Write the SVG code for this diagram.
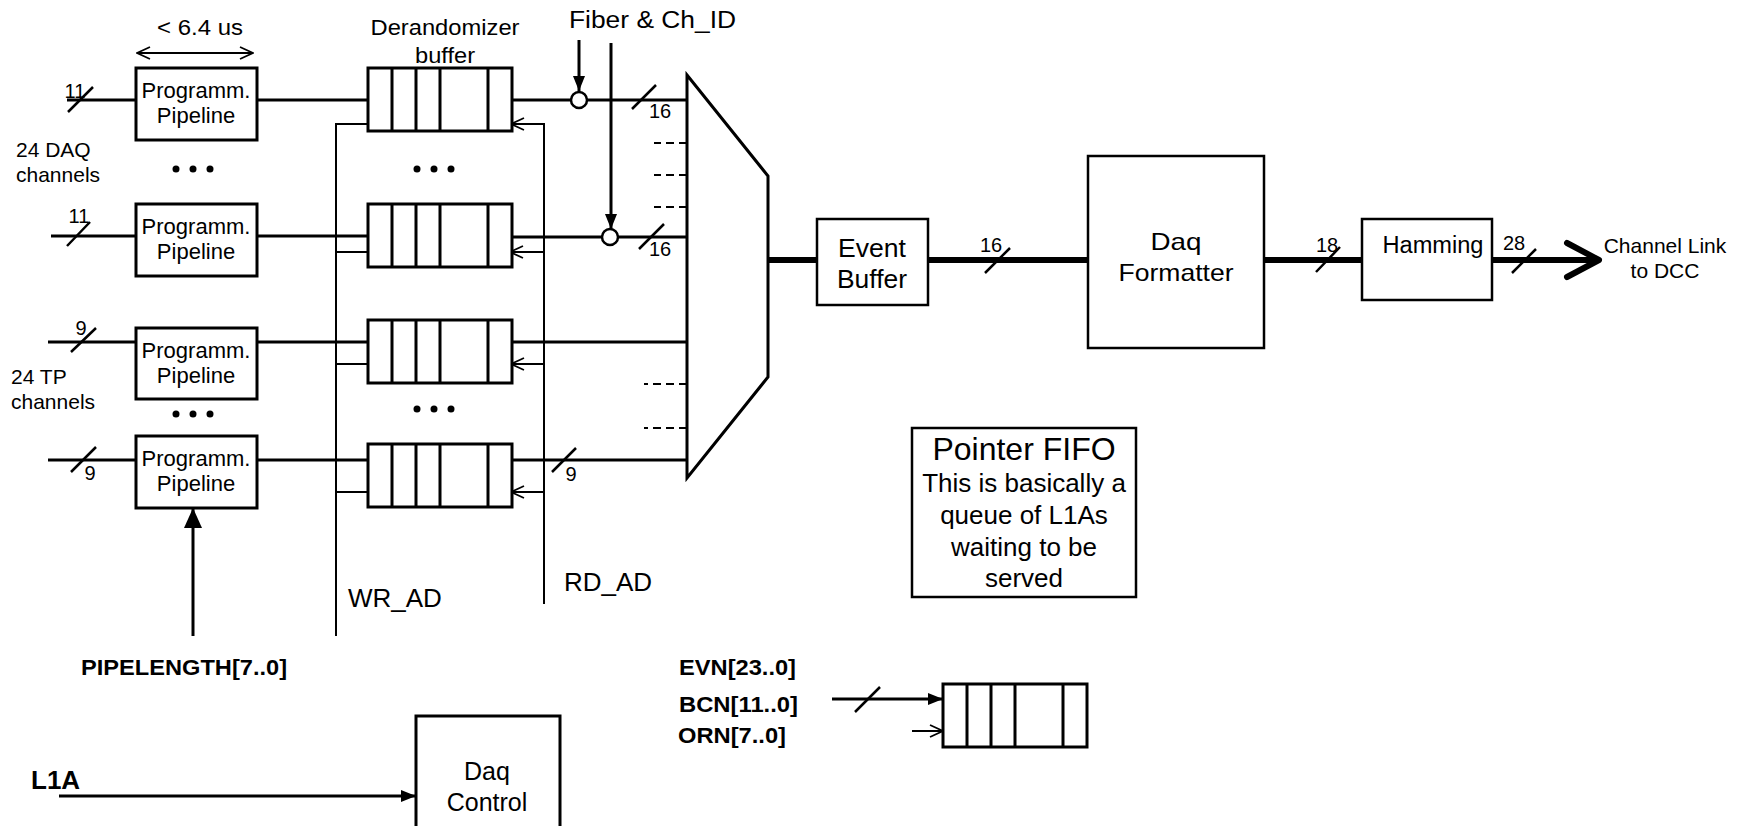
<svg xmlns="http://www.w3.org/2000/svg" xmlns:xlink="http://www.w3.org/1999/xlink" width="1744" height="826" viewBox="0 0 1744 826">
<style>
text{font-family:"Liberation Sans",Arial,Helvetica,sans-serif;fill:#000}
.c{text-anchor:middle}
.b{font-weight:bold}
.ln{stroke:#000;stroke-width:3;fill:none}
.th{stroke:#000;stroke-width:2;fill:none}
.tk{stroke:#000;stroke-width:6;fill:none}
.sl{stroke:#000;stroke-width:2.5;fill:none}
.box{fill:#fff;stroke:#000;stroke-width:3}
.box2{fill:#fff;stroke:#000;stroke-width:2.5}
.dash{stroke:#000;stroke-width:2;stroke-dasharray:8 5;fill:none}
.f21{font-size:21px}
.f22{font-size:22px}
.f26{font-size:26px}
.f20{font-size:20px}
</style>
<defs>
<marker id="aOpen" viewBox="0 0 15 14" refX="14" refY="7" markerWidth="15" markerHeight="14" orient="auto-start-reverse" markerUnits="userSpaceOnUse"><path d="M1,1 L14,7 L1,13" fill="none" stroke="#000" stroke-width="1.8"/></marker>
<marker id="aFill" viewBox="0 0 15 12" refX="15" refY="6" markerWidth="15" markerHeight="12" orient="auto" markerUnits="userSpaceOnUse"><path d="M0,0 L15,6 L0,12 z" fill="#000"/></marker>
<marker id="aBig" viewBox="0 0 20 18" refX="20" refY="9" markerWidth="20" markerHeight="18" orient="auto" markerUnits="userSpaceOnUse"><path d="M0,0 L20,9 L0,18 z" fill="#000"/></marker>
<g id="cells">
<rect x="0" y="0" width="144" height="63" class="box"/>
<path d="M24,0V63M48,0V63M72,0V63M120,0V63" class="ln"/>
</g>
<g id="dots"><circle cx="0" cy="0" r="3.5"/><circle cx="17" cy="0" r="3.5"/><circle cx="34" cy="0" r="3.5"/></g>
</defs>
<rect width="1744" height="826" fill="#fff"/>

<g id="connectors">
<path class="ln" d="M67,100H136M51,236H136M48,342H136M48,460H136"/>
<path class="sl" d="M68,112L93,87M67,246L90,222M71,352L96,328M71,472L96,447"/>
<path class="ln" d="M257,100H368M257,236H368M257,342H368M257,460H368"/>
<path class="ln" d="M512,100H571M587,100H687M512,237H602M618,237H687M512,342H687M512,460H687"/>
<path class="sl" d="M632,109L656,85M639,249L664,224M552,472L576,448"/>
<line class="ln" x1="579" y1="40" x2="579" y2="91" marker-end="url(#aFill)"/>
<line class="ln" x1="611" y1="43" x2="611" y2="229" marker-end="url(#aFill)"/>
<path class="dash" d="M687,143H654M687,175H654M687,207H654M687,384H644M687,428H644"/>
<path class="th" d="M336,636V124H400" marker-end="url(#aOpen)"/>
<line class="th" x1="336" y1="252" x2="384" y2="252" marker-end="url(#aOpen)"/>
<line class="th" x1="336" y1="364" x2="382" y2="364" marker-end="url(#aOpen)"/>
<line class="th" x1="336" y1="492" x2="382" y2="492" marker-end="url(#aOpen)"/>
<path class="th" d="M544,604V124H511" marker-end="url(#aOpen)"/>
<line class="th" x1="544" y1="252" x2="510" y2="252" marker-end="url(#aOpen)"/>
<line class="th" x1="544" y1="364" x2="511" y2="364" marker-end="url(#aOpen)"/>
<line class="th" x1="544" y1="492" x2="511" y2="492" marker-end="url(#aOpen)"/>
<line class="th" x1="137" y1="53" x2="253" y2="53" stroke-width="1.6" marker-start="url(#aOpen)" marker-end="url(#aOpen)"/>
<path class="tk" d="M768,260H817M928,260H1088M1264,260H1362M1492,260H1597"/>
<polyline class="tk" points="1567,243 1599,260 1567,277" stroke-linecap="round" stroke-linejoin="round"/>
<path class="sl" d="M985,273L1010,248M1316,272L1340,247M1512,273L1536,249"/>
<line class="ln" x1="193" y1="636" x2="193" y2="508" marker-end="url(#aBig)"/>
<line class="ln" x1="59" y1="796" x2="416" y2="796" marker-end="url(#aFill)"/>
<line class="ln" x1="832" y1="699" x2="943" y2="699" marker-end="url(#aFill)"/>
<path class="sl" d="M855,712L880,687"/>
<line class="th" x1="912" y1="731" x2="943" y2="731" marker-end="url(#aOpen)"/>
</g>

<g id="labels-bus">
<text class="c f20" x="75" y="98">11</text>
<text class="c f20" x="79" y="223">11</text>
<text class="c f20" x="81" y="335">9</text>
<text class="c f20" x="90" y="480">9</text>
<text class="c f20" x="660" y="118">16</text>
<text class="c f20" x="660" y="256">16</text>
<text class="c f20" x="571" y="481">9</text>
<text class="c f20" x="991" y="252">16</text>
<text class="c f20" x="1327" y="252">18</text>
<text class="c f20" x="1514" y="250">28</text>
</g>

<g id="timing-label"><text class="c" x="200" y="35" font-size="22" textLength="86" lengthAdjust="spacingAndGlyphs">&lt; 6.4 us</text></g>
<g id="derand-label">
<text class="c" x="445" y="35" font-size="22" textLength="149" lengthAdjust="spacingAndGlyphs">Derandomizer</text>
<text class="c" x="445" y="63" font-size="22" textLength="60" lengthAdjust="spacingAndGlyphs">buffer</text>
</g>
<g id="fiber-label"><text x="569" y="28" font-size="23" textLength="167" lengthAdjust="spacingAndGlyphs">Fiber &amp; Ch_ID</text></g>
<g id="daq-ch-label"><text class="f21" x="16" y="157">24 DAQ</text><text class="f21" x="16" y="182">channels</text></g>
<g id="tp-ch-label"><text class="f21" x="11" y="384">24 TP</text><text class="f21" x="11" y="409">channels</text></g>
<g id="wr-label"><text class="f26" x="348" y="607">WR_AD</text></g>
<g id="rd-label"><text class="f26" x="564" y="591">RD_AD</text></g>
<g id="pipelength-label"><text class="b" x="81" y="675" font-size="22" textLength="206" lengthAdjust="spacingAndGlyphs">PIPELENGTH[7..0]</text></g>
<g id="l1a-label"><text class="b" x="31" y="789" font-size="26">L1A</text></g>
<g id="evn-labels">
<text class="b" x="679" y="675" font-size="22" textLength="117" lengthAdjust="spacingAndGlyphs">EVN[23..0]</text>
<text class="b" x="679" y="712" font-size="22" textLength="119" lengthAdjust="spacingAndGlyphs">BCN[11..0]</text>
<text class="b" x="678" y="743" font-size="22" textLength="108" lengthAdjust="spacingAndGlyphs">ORN[7..0]</text>
</g>

<g id="pipeline1"><rect class="box" x="136" y="68" width="121" height="72"/><text class="c f22" x="196" y="98">Programm.</text><text class="c f22" x="196" y="123">Pipeline</text></g>
<g id="pipeline2"><rect class="box" x="136" y="204" width="121" height="72"/><text class="c f22" x="196" y="234">Programm.</text><text class="c f22" x="196" y="259">Pipeline</text></g>
<g id="pipeline3"><rect class="box" x="136" y="328" width="121" height="71"/><text class="c f22" x="196" y="358">Programm.</text><text class="c f22" x="196" y="383">Pipeline</text></g>
<g id="pipeline4"><rect class="box" x="136" y="436" width="121" height="72"/><text class="c f22" x="196" y="466">Programm.</text><text class="c f22" x="196" y="491">Pipeline</text></g>
<g id="pipe-dots"><use xlink:href="#dots" x="176" y="169"/><use xlink:href="#dots" x="176" y="414"/></g>

<g id="buffer1"><use xlink:href="#cells" x="368" y="68"/></g>
<g id="buffer2"><use xlink:href="#cells" x="368" y="204"/></g>
<g id="buffer3"><use xlink:href="#cells" x="368" y="320"/></g>
<g id="buffer4"><use xlink:href="#cells" x="368" y="444"/></g>
<g id="buf-dots"><use xlink:href="#dots" x="417" y="169"/><use xlink:href="#dots" x="417" y="409"/></g>

<g id="merge1"><circle cx="579" cy="100" r="8" fill="#fff" stroke="#000" stroke-width="2.5"/></g>
<g id="merge2"><circle cx="610" cy="237" r="8" fill="#fff" stroke="#000" stroke-width="2.5"/></g>

<g id="mux"><polygon class="ln" points="687,75 768,176 768,377 687,478"/></g>

<g id="event-buffer"><rect class="box2" x="817" y="219" width="111" height="86"/>
<text class="c" x="872" y="257" font-size="25" textLength="68" lengthAdjust="spacingAndGlyphs">Event</text>
<text class="c" x="872" y="288" font-size="25" textLength="70" lengthAdjust="spacingAndGlyphs">Buffer</text></g>

<g id="daq-formatter"><rect class="box2" x="1088" y="156" width="176" height="192"/>
<text class="c" x="1176" y="250" font-size="24" textLength="51" lengthAdjust="spacingAndGlyphs">Daq</text>
<text class="c" x="1176" y="281" font-size="24" textLength="115" lengthAdjust="spacingAndGlyphs">Formatter</text></g>

<g id="hamming"><rect class="box2" x="1362" y="219" width="130" height="81"/>
<text class="c" x="1433" y="253" font-size="23" textLength="101" lengthAdjust="spacingAndGlyphs">Hamming</text></g>

<g id="channel-link"><text class="c f21" x="1665" y="253">Channel Link</text><text class="c f21" x="1665" y="278">to DCC</text></g>

<g id="pointer-fifo-note"><rect class="box2" x="912" y="428" width="224" height="169"/>
<text class="c" x="1024" y="460" font-size="32">Pointer FIFO</text>
<text class="c f26" x="1024" y="492">This is basically a</text>
<text class="c f26" x="1024" y="524">queue of L1As</text>
<text class="c f26" x="1024" y="556">waiting to be</text>
<text class="c f26" x="1024" y="587">served</text></g>

<g id="pointer-fifo"><use xlink:href="#cells" x="943" y="684"/></g>

<g id="daq-control"><rect class="box" x="416" y="716" width="144" height="130"/>
<text class="c" x="487" y="780" font-size="25">Daq</text>
<text class="c" x="487" y="811" font-size="25">Control</text></g>
</svg>
